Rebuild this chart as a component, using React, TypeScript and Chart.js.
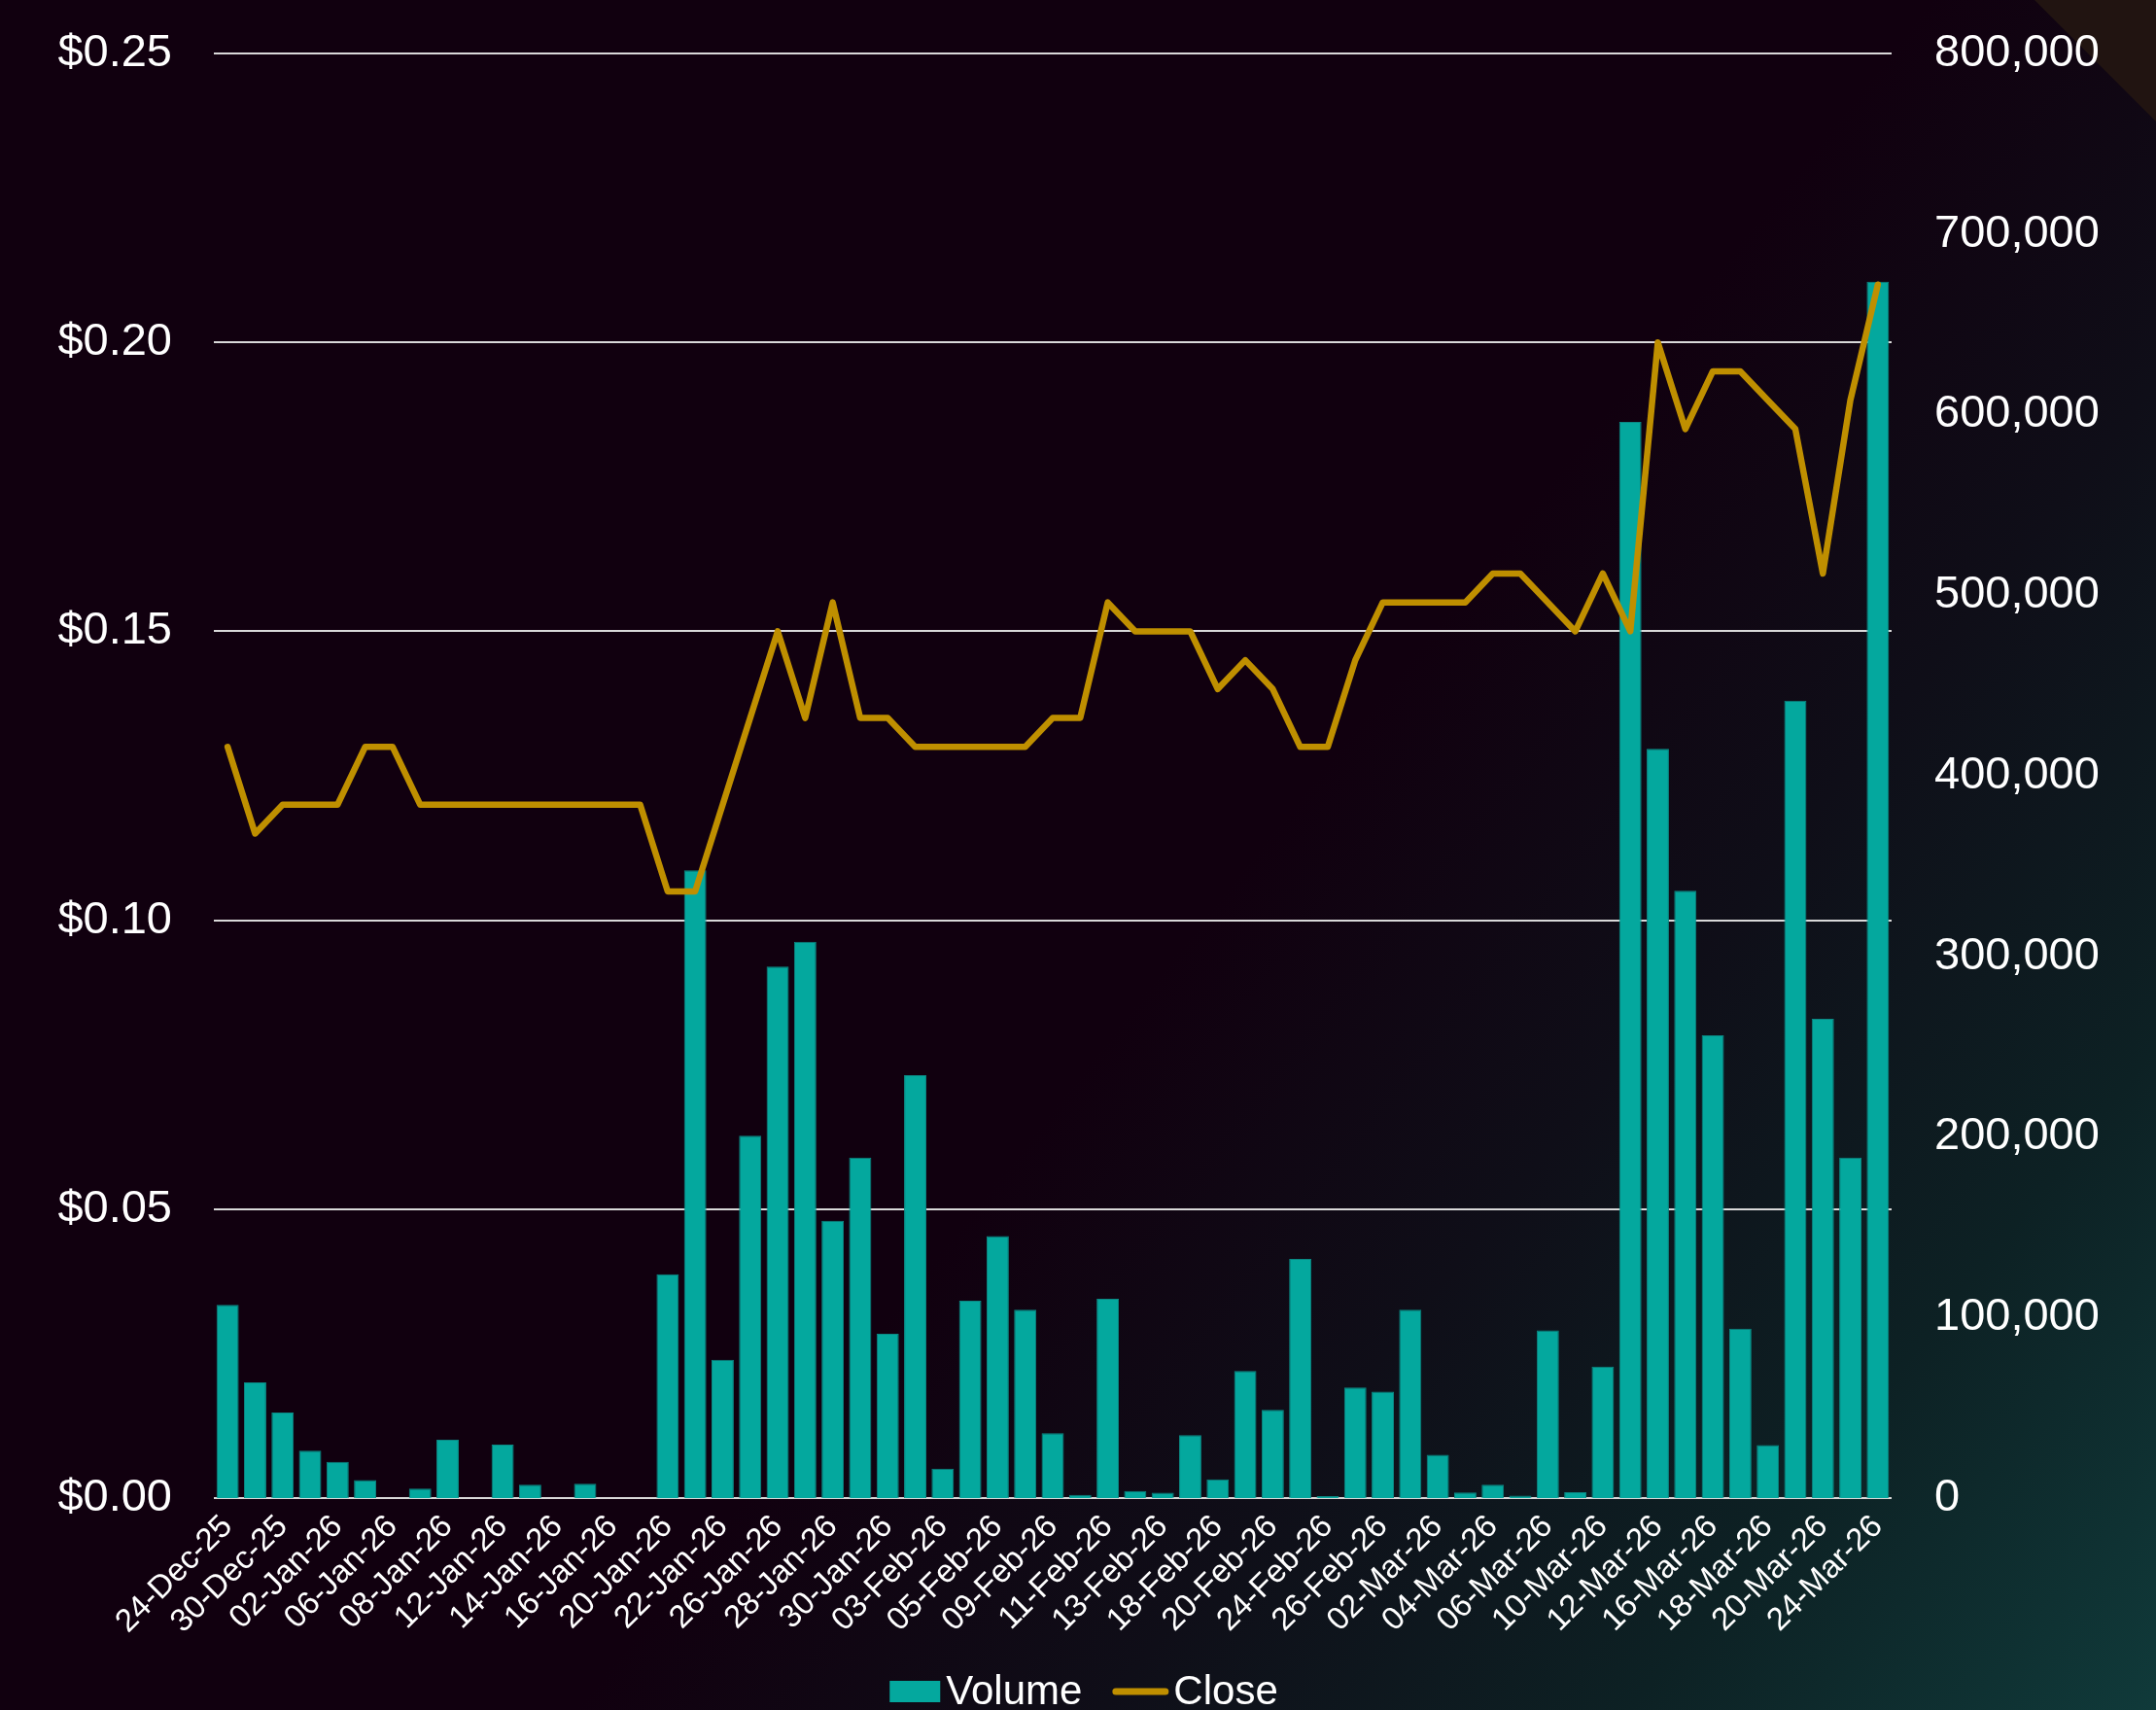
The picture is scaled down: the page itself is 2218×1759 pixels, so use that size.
import React, { useEffect, useRef } from 'react';
import { Chart, registerables } from 'chart.js';

Chart.register(...registerables);

const W = 2218;
const H = 1759;
const FONT = "'Liberation Sans', Arial, sans-serif";

const dates = [
  '24-Dec-25', '29-Dec-25', '30-Dec-25', '31-Dec-25', '02-Jan-26', '05-Jan-26', '06-Jan-26', '07-Jan-26',
  '08-Jan-26', '09-Jan-26', '12-Jan-26', '13-Jan-26', '14-Jan-26', '15-Jan-26', '16-Jan-26', '19-Jan-26',
  '20-Jan-26', '21-Jan-26', '22-Jan-26', '23-Jan-26', '26-Jan-26', '27-Jan-26', '28-Jan-26', '29-Jan-26',
  '30-Jan-26', '02-Feb-26', '03-Feb-26', '04-Feb-26', '05-Feb-26', '06-Feb-26', '09-Feb-26', '10-Feb-26',
  '11-Feb-26', '12-Feb-26', '13-Feb-26', '17-Feb-26', '18-Feb-26', '19-Feb-26', '20-Feb-26', '23-Feb-26',
  '24-Feb-26', '25-Feb-26', '26-Feb-26', '27-Feb-26', '02-Mar-26', '03-Mar-26', '04-Mar-26', '05-Mar-26',
  '06-Mar-26', '09-Mar-26', '10-Mar-26', '11-Mar-26', '12-Mar-26', '13-Mar-26', '16-Mar-26', '17-Mar-26',
  '18-Mar-26', '19-Mar-26', '20-Mar-26', '23-Mar-26', '24-Mar-26',
];

const volume = [
  107000, 64000, 47400, 26200, 20100, 9900, 0, 5200,
  32300, 0, 29600, 7400, 0, 7900, 0, 0,
  124000, 347600, 76600, 200700, 294400, 308100, 153500, 188500,
  91000, 234200, 16300, 109300, 145100, 104300, 35900, 1800,
  110400, 3900, 2900, 34800, 10400, 70400, 48800, 132400,
  1100, 61200, 59000, 104300, 24000, 3100, 7400, 1400,
  92800, 3200, 72800, 596000, 415000, 336300, 256300, 93800,
  29400, 441600, 265400, 188500, 673600,
];

const close = [
  0.13, 0.115, 0.12, 0.12, 0.12, 0.13, 0.13, 0.12,
  0.12, 0.12, 0.12, 0.12, 0.12, 0.12, 0.12, 0.12,
  0.105, 0.105, 0.12, 0.135, 0.15, 0.135, 0.155, 0.135,
  0.135, 0.13, 0.13, 0.13, 0.13, 0.13, 0.135, 0.135,
  0.155, 0.15, 0.15, 0.15, 0.14, 0.145, 0.14, 0.13,
  0.13, 0.145, 0.155, 0.155, 0.155, 0.155, 0.16, 0.16,
  0.155, 0.15, 0.16, 0.15, 0.2, 0.185, 0.195, 0.195,
  0.19, 0.185, 0.16, 0.19, 0.21,
];

const bgPlugin = {
  id: 'bgPlugin',
  beforeDraw(chart: any) {
    const { ctx, width, height } = chart;
    ctx.save();
    const g = ctx.createLinearGradient(0, 0, width, height);
    g.addColorStop(0, '#11000f');
    g.addColorStop(0.55, '#11000f');
    g.addColorStop(0.7, '#0f0e18');
    g.addColorStop(0.85, '#0d2124');
    g.addColorStop(1, '#103a3a');
    ctx.fillStyle = g;
    ctx.fillRect(0, 0, width, height);
    ctx.beginPath();
    ctx.moveTo(width - 125, 0);
    ctx.lineTo(width, 0);
    ctx.lineTo(width, 125);
    ctx.closePath();
    ctx.fillStyle = '#211411';
    ctx.fill();
    ctx.restore();
  },
};

// Legend drawn as canvas text, laid out like the reference (glyph close to its label)
const legendPlugin = {
  id: 'legendPlugin',
  afterDraw(chart: any) {
    const { ctx, width } = chart;
    const ds = chart.data.datasets;
    const barDs = ds[0];
    const lineDs = ds[1];
    ctx.save();
    ctx.font = `42px ${FONT}`;
    ctx.textBaseline = 'middle';
    ctx.textAlign = 'left';
    const rectW = 52;
    const rectH = 22;
    const lineW = 58;
    const w1 = ctx.measureText(barDs.label).width;
    const w2 = ctx.measureText(lineDs.label).width;
    const total = rectW + 6 + w1 + 31 + lineW + 5 + w2;
    let x = (width - total) / 2 + 6;
    const cy = 1740;
    ctx.fillStyle = barDs.backgroundColor;
    ctx.fillRect(x, cy - rectH / 2, rectW, rectH);
    x += rectW + 6;
    ctx.fillStyle = '#ffffff';
    ctx.fillText(barDs.label, x, cy + 1);
    x += w1 + 31;
    ctx.strokeStyle = lineDs.borderColor;
    ctx.lineWidth = 7;
    ctx.lineCap = 'round';
    ctx.beginPath();
    ctx.moveTo(x + 3.5, cy);
    ctx.lineTo(x + lineW - 3.5, cy);
    ctx.stroke();
    x += lineW + 5;
    ctx.fillText(lineDs.label, x, cy + 1);
    ctx.restore();
  },
};

export default function App() {
  const ref = useRef<HTMLCanvasElement>(null);

  useEffect(() => {
    document.body.style.margin = '0';
    document.body.style.overflow = 'hidden';
    Chart.defaults.font.family = FONT;
    Chart.defaults.color = '#ffffff';
    const zeroPad = (s: any) => {
      s.paddingTop = 0;
      s.paddingBottom = 0;
    };
    const chart = new Chart(ref.current as HTMLCanvasElement, {
      type: 'bar',
      data: {
        labels: dates,
        datasets: [
          {
            type: 'bar',
            label: 'Volume',
            data: volume,
            yAxisID: 'y1',
            backgroundColor: '#04a89e',
            borderColor: '#0b8883',
            borderWidth: 1,
            barPercentage: 0.81,
            categoryPercentage: 1.0,
            order: 2,
          } as any,
          {
            type: 'line',
            label: 'Close',
            data: close,
            yAxisID: 'y',
            borderColor: '#bf8f00',
            backgroundColor: '#bf8f00',
            borderWidth: 6.5,
            borderCapStyle: 'round',
            borderJoinStyle: 'round',
            pointRadius: 0,
            pointHoverRadius: 0,
            tension: 0,
            order: 1,
          } as any,
        ],
      },
      options: {
        responsive: false,
        animation: false,
        devicePixelRatio: 1,
        layout: { padding: { top: 55, bottom: 70, left: 0, right: 0 } },
        plugins: {
          tooltip: { enabled: false },
          legend: { display: false },
        },
        scales: {
          x: {
            grid: { display: false, drawTicks: false },
            border: { display: false },
            ticks: {
              color: '#ffffff',
              font: { family: FONT, size: 33 },
              minRotation: 45,
              maxRotation: 45,
              autoSkip: false,
              padding: 10,
              callback: (_v: any, i: number) => (i % 2 === 0 ? dates[i] : ''),
            },
            afterFit: (s: any) => {
              s.height = 148;
            },
          },
          y: {
            position: 'left',
            min: 0,
            max: 0.25,
            grid: { color: '#d9d9d9', lineWidth: 2, drawTicks: false },
            border: { display: false },
            ticks: {
              stepSize: 0.05,
              color: '#ffffff',
              font: { family: FONT, size: 47 },
              padding: 43,
              callback: (v: any) => '$' + Number(v).toFixed(2),
            },
            afterFit: (s: any) => {
              s.width = 220;
              zeroPad(s);
            },
          },
          y1: {
            position: 'right',
            min: 0,
            max: 800000,
            grid: { display: false, drawTicks: false },
            border: { display: false },
            ticks: {
              stepSize: 100000,
              color: '#ffffff',
              font: { family: FONT, size: 47 },
              padding: 44,
              callback: (v: any) => Number(v).toLocaleString('en-US'),
            },
            afterFit: (s: any) => {
              s.width = 272;
              zeroPad(s);
            },
          },
        },
      } as any,
      plugins: [bgPlugin, legendPlugin],
    });
    return () => chart.destroy();
  }, []);

  return (
    <div style={{ width: W, height: H, overflow: 'hidden' }}>
      <canvas ref={ref} width={W} height={H} style={{ display: 'block', width: W, height: H }} />
    </div>
  );
}
